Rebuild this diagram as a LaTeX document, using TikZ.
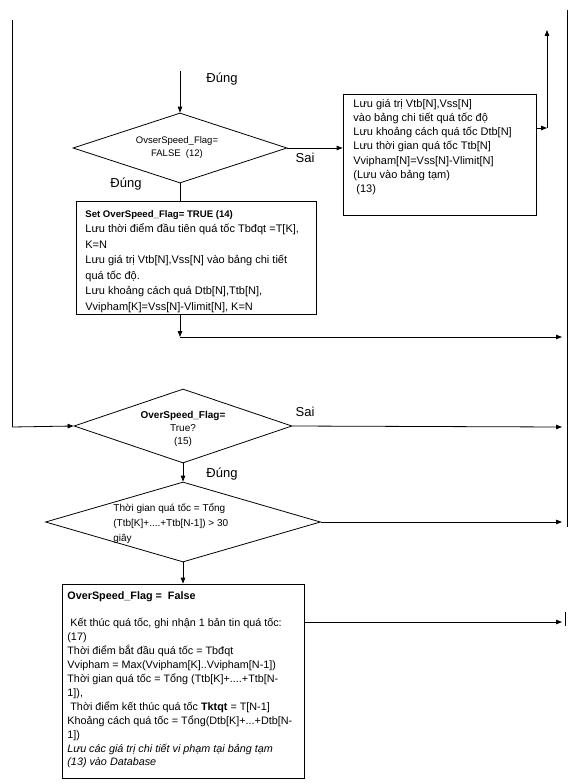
\documentclass[tikz,border=0pt]{standalone}
\usepackage{fontspec}
\setmainfont{Liberation Sans}
\usetikzlibrary{arrows.meta,shapes.geometric}
\begin{document}
\begin{tikzpicture}[x=1pt,y=-1pt,line width=0.8pt,
  arr/.style={-{Triangle[length=6pt,width=4.5pt]}},
  dia/.style={draw,diamond,inner sep=0pt},
  boxshape/.style={draw,rectangle,inner sep=0pt},
  boxtxt/.style={anchor=north west,inner sep=0pt,align=left},
  lbl/.style={inner sep=0pt,font=\fontsize{13}{15}\selectfont}]
\useasboundingbox (0,0) rectangle (576,784);
\fill[white] (0,0) rectangle (576,784);

% side lines
\coordinate (lt) at (12,20);
\coordinate (lb) at (12,427);
\coordinate (rt) at (567,10);
\coordinate (rb) at (567,527);
\draw (lt) -- (lb);
\draw (rt) -- (rb);

% decision 12
\node[dia,minimum width=214pt,minimum height=70pt] (d12) at (180,148) {};
\node[inner sep=0pt,align=center,font=\fontsize{9.5}{13}\selectfont] (t12) at (177,148) {OvserSpeed\_Flag=\\FALSE\ \ (12)};
\coordinate (topin) at (180,71);
\node[lbl] (l1) at (222,79) {Đúng};

% box 13
\node[boxshape,minimum width=193pt,minimum height=121pt] (b13) at (439.5,154.5) {};
\node[boxtxt,font=\fontsize{11}{14.2}\selectfont] (t13) at (353,97) {\strut Lưu giá trị Vtb[N],Vss[N]\\vào bảng chi tiết quá tốc độ\\Lưu khoảng cách quá tốc Dtb[N]\\Lưu thời gian quá tốc Ttb[N]\\Vvipham[N]=Vss[N]-Vlimit[N]\\(Lưu vào bảng tạm)\\\hspace*{3pt}(13)};
\node[lbl] (l2) at (305,158) {Sai};
\coordinate (j13) at (547,128);
\coordinate (up13) at (547,30);

% box 14
\node[lbl] (l3) at (126,184) {Đúng};
\node[boxshape,minimum width=240pt,minimum height=113pt] (b14) at (196,257.5) {};
\node[boxtxt,font=\fontsize{11}{15.5}\selectfont] (t14) at (85,206) {\strut{\fontsize{9.6}{15.5}\selectfont\textbf{Set OverSpeed\_Flag= TRUE (14)}}\\Lưu thời điểm đầu tiên quá tốc Tbđqt =T[K],\\K=N\\Lưu giá trị Vtb[N],Vss[N] vào bảng chi tiết\\quá tốc độ.\\Lưu khoảng cách quá Dtb[N],Ttb[N],\\Vvipham[K]=Vss[N]-Vlimit[N], K=N};
\coordinate (m1) at (180,337);
\coordinate (m1e) at (562,337);

% decision 15
\node[dia,minimum width=218pt,minimum height=74pt] (d15) at (183,426) {};
\node[inner sep=0pt,align=center,font=\fontsize{10}{13}\selectfont] (t15) at (183,429) {\textbf{OverSpeed\_Flag=}\\True?\\(15)};
\node[lbl] (l4) at (305,412) {Sai};
\coordinate (s15) at (562,427);
\node[lbl] (l5) at (222,474) {Đúng};

% decision 16
\node[dia,minimum width=275pt,minimum height=80pt] (d16) at (183,522) {};
\node[boxtxt,font=\fontsize{10}{15}\selectfont] (t16) at (113,501) {\strut Thời gian quá tốc = Tổng\\(Ttb[K]+....+Ttb[N-1]) > 30\\giây};
\coordinate (s16) at (562,522);

% box 17
\node[boxshape,minimum width=242pt,minimum height=194pt] (b17) at (183,681) {};
\node[boxtxt,font=\fontsize{10.8}{13.9}\selectfont] (t17) at (67,589) {\strut\textbf{OverSpeed\_Flag =\ \ False}\\\mbox{}\\\hspace*{3pt}Kết thúc quá tốc, ghi nhận 1 bản tin quá tốc:\\(17)\\Thời điểm bắt đầu quá tốc = Tbđqt\\Vvipham = Max(Vvipham[K]..Vvipham[N-1])\\Thời gian quá tốc = Tổng (Ttb[K]+....+Ttb[N-\\1]),\\\hspace*{3pt}Thời điểm kết thúc quá tốc \textbf{Tktqt} = T[N-1]\\Khoảng cách quá tốc = Tổng(Dtb[K]+...+Dtb[N-\\1])\\\textit{Lưu các giá trị chi tiết vi phạm tại bảng tạm}\\\textit{(13) vào Database}};
\coordinate (s17) at (562,622);
\coordinate (k1) at (565,612);
\coordinate (k2) at (565,626);

% connectors
\draw[arr] (topin) -- (d12.north);
\draw[arr] (d12.east) -- (d12.east -| b13.west);
\draw[arr] (b13.east |- j13) -- (j13);
\draw[arr] (j13) -- (up13);
\draw (d12.south) -- (d12.south |- b14.north);
\draw[arr] (b14.south -| m1) -- (m1);
\draw[arr] (m1) -- (m1e);
\draw[arr] (lb) -- (d15.west);
\draw[arr] (d15.east) -- (s15);
\draw[arr] (d15.south) -- (d16.north);
\draw[arr] (d16.east) -- (s16);
\draw[arr] (d16.south) -- (b17.north);
\draw[arr] (b17.east |- s17) -- (s17);
\draw (k1) -- (k2);
\end{tikzpicture}
\end{document}
